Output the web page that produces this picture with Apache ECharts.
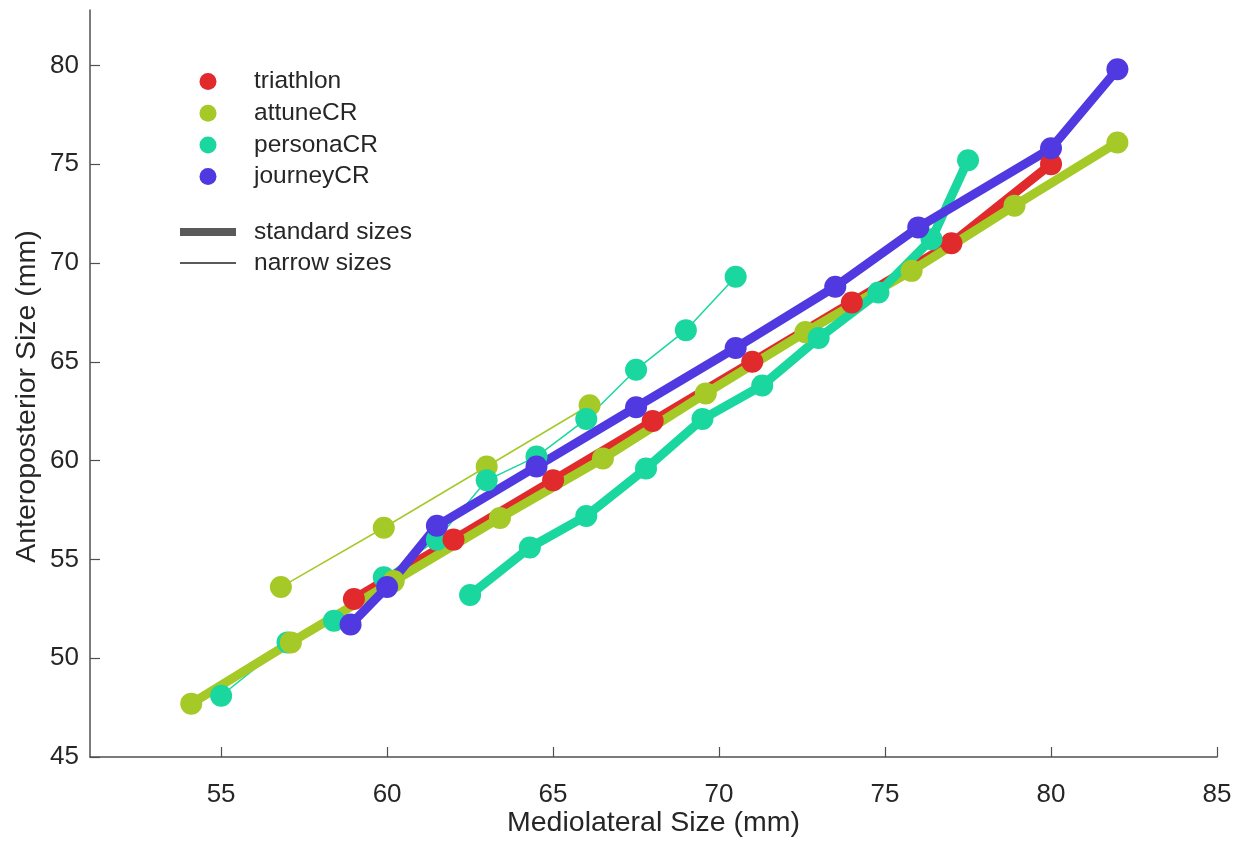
<!DOCTYPE html>
<html>
<head>
<meta charset="utf-8">
<script src="https://cdn.jsdelivr.net/npm/echarts@6/dist/echarts.min.js"></script>
<style>
  html, body { margin: 0; padding: 0; background: #fff; }
  #chart { width: 1244px; height: 847px; }
</style>
</head>
<body>
<div id="chart"></div>
<script>
// tick positions
const xTicks = [55, 60, 65, 70, 75, 80, 85]
const yTicks = [45, 50, 55, 60, 65, 70, 75, 80]

// standard sizes (ML, AP) in mm
const triathlonML = [59, 62, 65, 68, 71, 74, 77, 80]
const triathlonAP = [53, 56, 59, 62, 65, 68, 71, 75]
const attuneML = [54.1, 57.1, 60.2, 63.4, 66.5, 69.6, 72.6, 75.8, 78.9, 82.0]
const attuneAP = [47.7, 50.8, 53.9, 57.1, 60.1, 63.4, 66.5, 69.6, 72.9, 76.1]
const personaML = [62.5, 64.3, 66.0, 67.8, 69.5, 71.3, 73.0, 74.8, 76.4, 77.5]
const personaAP = [53.2, 55.6, 57.2, 59.6, 62.1, 63.8, 66.2, 68.5, 71.2, 75.2]
const journeyML = [58.9, 60.0, 61.5, 64.5, 67.5, 70.5, 73.5, 76.0, 80.0, 82.0]
const journeyAP = [51.7, 53.6, 56.7, 59.7, 62.7, 65.7, 68.8, 71.8, 75.8, 79.8]

// narrow sizes
const attuneNarrowML = [56.8, 59.9, 63.0, 66.1]
const attuneNarrowAP = [53.6, 56.6, 59.7, 62.8]
const personaNarrowML = [55.0, 57.0, 58.4, 59.9, 61.5, 63.0, 64.5, 66.0, 67.5, 69.0, 70.5]
const personaNarrowAP = [48.1, 50.8, 51.9, 54.1, 56.0, 59.0, 60.2, 62.1, 64.6, 66.6, 69.3]

const colors = {
  triathlon: '#e02a2c',
  attuneCR: '#a5c927',
  personaCR: '#19d79e',
  journeyCR: '#5039e0',
}

const font = '"Liberation Sans", Arial, sans-serif'
const axisColor = '#505050'
const textColor = '#262626'

function pairs(xs, ys) {
  return xs.map((x, i) => [x, ys[i]])
}

function makeSeries(name, xs, ys, narrow) {
  return {
    name: name,
    type: 'line',
    data: pairs(xs, ys),
    symbol: 'circle',
    symbolSize: 22,
    showSymbol: true,
    animation: false,
    itemStyle: {color: colors[name]},
    lineStyle: {
      color: colors[name],
      width: narrow ? 1.5 : 9,
    },
    emphasis: {disabled: true},
  }
}

const chart = echarts.init(document.getElementById('chart'))

chart.setOption({
  backgroundColor: '#ffffff',
  animation: false,
  grid: {
    left: 90,
    right: 27,
    top: 10,
    bottom: 90,
    containLabel: false,
    outerBoundsMode: 'none',
  },
  legend: {
    data: ['triathlon', 'attuneCR', 'personaCR', 'journeyCR'],
    orient: 'vertical',
    left: 199.5,
    top: 69,
    padding: 0,
    icon: 'circle',
    itemWidth: 17,
    itemHeight: 17,
    itemGap: 6.7,
    selectedMode: false,
    textStyle: {
      fontFamily: font,
      fontSize: 24.5,
      lineHeight: 23,
      color: textColor,
      padding: [0, 0, 0, 32.5],
    },
  },
  graphic: [
    {
      type: 'rect',
      shape: {x: 180, y: 228, width: 56, height: 8},
      style: {fill: '#5a5a5a'},
    },
    {
      type: 'line',
      shape: {x1: 180, y1: 263, x2: 236, y2: 263},
      style: {stroke: '#5a5a5a', lineWidth: 2},
    },
    {
      type: 'text',
      x: 254,
      y: 232,
      style: {
        text: 'standard sizes',
        fontFamily: font,
        fontSize: 24.5,
        fill: textColor,
        verticalAlign: 'middle',
      },
    },
    {
      type: 'text',
      x: 254,
      y: 263,
      style: {
        text: 'narrow sizes',
        fontFamily: font,
        fontSize: 24.5,
        fill: textColor,
        verticalAlign: 'middle',
      },
    },
  ],
  xAxis: {
    type: 'value',
    min: 51.05,
    max: 85,
    name: 'Mediolateral Size (mm)',
    nameLocation: 'middle',
    nameGap: 52,
    nameMoveOverlap: false,
    nameTextStyle: {
      fontFamily: font,
      fontSize: 28.5,
      color: textColor,
    },
    axisLine: {lineStyle: {color: axisColor, width: 1.5}},
    axisTick: {
      inside: true,
      length: 10,
      customValues: xTicks,
      lineStyle: {color: axisColor, width: 1.2},
    },
    axisLabel: {
      customValues: xTicks,
      margin: 25,
      fontFamily: font,
      fontSize: 26,
      color: textColor,
    },
    splitLine: {show: false},
  },
  yAxis: {
    type: 'value',
    min: 45,
    max: 82.8,
    name: 'Anteroposterior Size (mm)',
    nameLocation: 'middle',
    nameGap: 48,
    nameMoveOverlap: false,
    nameTextStyle: {
      fontFamily: font,
      fontSize: 28.5,
      color: textColor,
      padding: [0, 26, 0, 0],
    },
    axisLine: {show: true, lineStyle: {color: axisColor, width: 1.5}},
    axisTick: {
      show: true,
      inside: true,
      length: 10,
      customValues: yTicks,
      lineStyle: {color: axisColor, width: 1.2},
    },
    axisLabel: {
      customValues: yTicks,
      margin: 11,
      fontFamily: font,
      fontSize: 26,
      color: textColor,
    },
    splitLine: {show: false},
  },
  series: [
    makeSeries('attuneCR', attuneNarrowML, attuneNarrowAP, true),
    makeSeries('personaCR', personaNarrowML, personaNarrowAP, true),
    makeSeries('triathlon', triathlonML, triathlonAP, false),
    makeSeries('attuneCR', attuneML, attuneAP, false),
    makeSeries('personaCR', personaML, personaAP, false),
    makeSeries('journeyCR', journeyML, journeyAP, false),
  ],
})
</script>
</body>
</html>
